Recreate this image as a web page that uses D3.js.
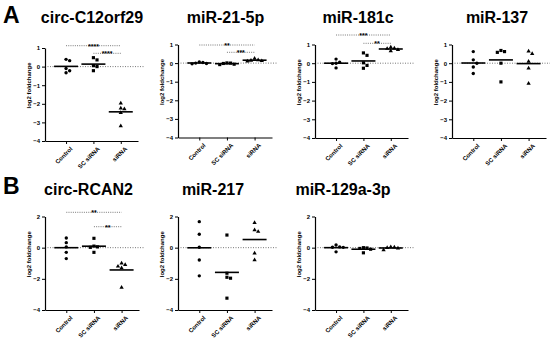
<!DOCTYPE html>
<html>
<head>
<meta charset="utf-8">
<script src="https://cdn.jsdelivr.net/npm/d3@7"></script>
<style>
  body { margin: 0; background: #fff; }
  svg { font-family: "Liberation Sans", Arial, sans-serif; }
  .tick text { font-size: 6px; font-weight: bold; }
</style>
</head>
<body>
<div id="chart"></div>
<script>
// groups on the x axis
var groups = ["Control", "SC siRNA", "siRNA"];

// log2 fold change per group (Control, SC siRNA, siRNA)
var c12orf29 = [[0.32, 0.39, -0.33, -0.22, -0.1], [0.48, 0.36, 0.05, 0.0, -0.22], [-1.97, -2.28, -2.24, -2.48, -3.19]];
var mir21 = [[0.06, 0.03, 0.0, -0.02, -0.04], [-0.08, -0.06, -0.02, 0.0, 0.01], [0.25, 0.17, 0.14, 0.12, 0.1]];
var mir181c = [[0.22, 0.05, 0.0, -0.02, -0.25], [0.55, 0.42, 0.02, -0.12, -0.27], [0.85, 0.8, 0.78, 0.72, 0.65]];
var mir137 = [[0.62, 0.18, 0.0, -0.2, -0.55], [0.68, 0.58, 0.62, 0.0, -1.0], [0.64, 0.51, 0.09, -0.27, -1.08]];
var rcan2 = [[0.62, 0.32, 0.05, -0.3, -0.7], [0.6, 0.1, 0.05, 0.02, -0.3], [-1.1, -1.3, -1.0, -1.2, -2.55]];
var mir217 = [[1.67, 0.86, 0.03, -0.79, -1.81], [0.81, -1.9, -1.96, -1.64, -3.24], [1.6, 1.03, 1.13, -0.36, -0.79]];
var mir129 = [[0.17, 0.05, 0.03, 0.02, -0.27], [0.0, -0.02, -0.05, -0.1, -0.33], [0.05, 0.03, 0.0, -0.03, -0.15]];

// y tick labels
var topTicks = [1, 0, -1, -2, -3, -4];
var bottomTicks = [2, 0, -2, -4];

// significance comparisons: [from, to, stars]
var sigC12orf29 = [["Control", "siRNA", "****"], ["SC siRNA", "siRNA", "****"]];
var sigMir21 = [["Control", "siRNA", "**"], ["SC siRNA", "siRNA", "***"]];
var sigMir181c = [["Control", "siRNA", "***"], ["SC siRNA", "siRNA", "**"]];
var sigRcan2 = [["Control", "siRNA", "**"], ["SC siRNA", "siRNA", "**"]];

var W = 550, H = 344;

var svg = d3.select("#chart").append("svg")
	.attr("width", W)
	.attr("height", H);

// panel layout
var panels = [
	{title: "circ-C12orf29", data: c12orf29, sig: sigC12orf29, sigY: [45.7, 53.3], ticks: topTicks, dom: [-4, 1],
	 x0: 45, x1: 138, yTop: 48, yBot: 141, tx: 92, ty: 23},
	{title: "miR-21-5p", data: mir21, sig: sigMir21, sigY: [45, 52.3], ticks: topTicks, dom: [-4, 1],
	 x0: 178, x1: 272, yTop: 44.5, yBot: 137.5, tx: 225.5, ty: 23},
	{title: "miR-181c", data: mir181c, sig: sigMir181c, sigY: [35, 43.3], ticks: topTicks, dom: [-4, 1],
	 x0: 315, x1: 408, yTop: 44.5, yBot: 138, tx: 358, ty: 23},
	{title: "miR-137", data: mir137, sig: [], sigY: [], ticks: topTicks, dom: [-4, 1],
	 x0: 452, x1: 546, yTop: 44.5, yBot: 138, tx: 497, ty: 23},
	{title: "circ-RCAN2", data: rcan2, sig: sigRcan2, sigY: [212.3, 226.7], ticks: bottomTicks, dom: [-4, 2],
	 x0: 45, x1: 139, yTop: 216.5, yBot: 310, tx: 88.5, ty: 195},
	{title: "miR-217", data: mir217, sig: [], sigY: [], ticks: bottomTicks, dom: [-4, 2],
	 x0: 178, x1: 272, yTop: 216.5, yBot: 310, tx: 213, ty: 195},
	{title: "miR-129a-3p", data: mir129, sig: [], sigY: [], ticks: bottomTicks, dom: [-4, 2],
	 x0: 315, x1: 408, yTop: 216.5, yBot: 310, tx: 343, ty: 195}
];

// marker per group
var symbols = [d3.symbolCircle, d3.symbolSquare, d3.symbolTriangle];
var symSize = [9, 10, 8];

// simple beeswarm so overlapping points spread sideways
function swarm(ys, d) {
	var order = ys.map(function(y, i) { return i; }).sort(function(a, b) { return ys[a] - ys[b]; });
	var placed = [], off = new Array(ys.length);
	order.forEach(function(i) {
		var k = 0, dx = 0;
		while (true) {
			dx = (k === 0) ? 0 : (k % 2 ? 1 : -1) * Math.ceil(k / 2) * d;
			var ok = placed.every(function(p) {
				var ex = p.x - dx, ey = p.y - ys[i];
				return ex * ex + ey * ey >= d * d;
			});
			if (ok) break;
			k++;
		}
		off[i] = dx;
		placed.push({x: dx, y: ys[i]});
	});
	return off;
}

panels.forEach(function(p) {
	var x = d3.scalePoint().domain(groups).range([p.x0, p.x1]).padding(0.7).align(0.55);
	var y = d3.scaleLinear().domain(p.dom).range([p.yBot, p.yTop]);
	var g = svg.append("g");

	// title
	svg.append("text")
		.attr("x", p.tx).attr("y", p.ty)
		.attr("text-anchor", "middle")
		.style("font-size", "16px").style("font-weight", "bold")
		.text(p.title);

	// zero line
	g.append("line")
		.attr("x1", p.x0).attr("x2", p.x1 + 6)
		.attr("y1", y(0)).attr("y2", y(0))
		.attr("stroke", "#555").attr("stroke-width", 0.8)
		.attr("stroke-dasharray", "1,1.5");

	// axes
	var yAxis = d3.axisLeft(y).tickValues(p.ticks).tickSize(3).tickSizeOuter(0).tickPadding(2)
		.tickFormat(d3.format("d"));
	g.append("g").attr("transform", "translate(" + p.x0 + ",0)").call(yAxis);

	var xAxis = d3.axisBottom(x).tickSize(3).tickSizeOuter(0).tickPadding(3);
	var xa = g.append("g").attr("transform", "translate(0," + p.yBot + ")").call(xAxis);
	xa.selectAll(".tick text")
		.attr("text-anchor", "end")
		.attr("dx", "0").attr("dy", "0")
		.attr("transform", "translate(2,4) rotate(-45)");
	g.selectAll(".domain").attr("stroke-width", 1.2);

	// y axis title
	g.append("text")
		.attr("transform", "translate(" + (p.x0 - 14) + "," + ((p.yTop + p.yBot) / 2 - 9) + ") rotate(-90)")
		.attr("text-anchor", "middle")
		.style("font-size", "6px").style("font-weight", "bold")
		.text("log2 foldchange");

	// significance lines
	p.sig.forEach(function(s, i) {
		var yy = p.sigY[i];
		g.append("line")
			.attr("x1", x(s[0])).attr("x2", x(s[1]))
			.attr("y1", yy).attr("y2", yy)
			.attr("stroke", "#555").attr("stroke-width", 0.8)
			.attr("stroke-dasharray", "1,1.2");
		g.append("text")
			.attr("x", (x(s[0]) + x(s[1])) / 2).attr("y", yy + 3)
			.attr("text-anchor", "middle")
			.style("font-size", "7px").style("font-weight", "bold")
			.text(s[2]);
	});

	// points and mean bars
	p.data.forEach(function(vals, gi) {
		var cx = x(groups[gi]);
		var ys = vals.map(function(v) { return y(v); });
		var off = swarm(ys, 3.6);
		var sym = d3.symbol().type(symbols[gi]).size(symSize[gi]);
		g.selectAll(null).data(vals).enter().append("path")
			.attr("d", sym)
			.attr("fill", "#000")
			.attr("transform", function(d, i) { return "translate(" + (cx + off[i]) + "," + y(d) + ")"; });
		var m = d3.mean(vals);
		g.append("line")
			.attr("x1", cx - 12).attr("x2", cx + 12)
			.attr("y1", y(m)).attr("y2", y(m))
			.attr("stroke", "#000").attr("stroke-width", 1.6);
	});
});

// panel letters
svg.append("text").attr("x", 3).attr("y", 23)
	.style("font-size", "23px").style("font-weight", "bold").text("A");
svg.append("text").attr("x", 3).attr("y", 194)
	.style("font-size", "23px").style("font-weight", "bold").text("B");
</script>
</body>
</html>
